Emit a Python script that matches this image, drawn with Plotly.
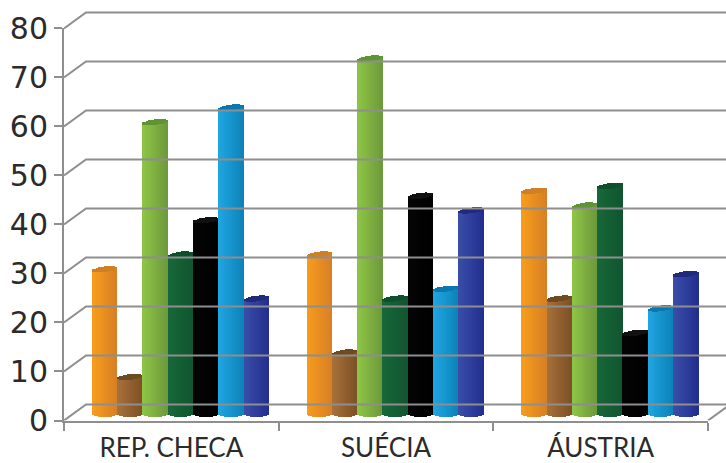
import plotly.graph_objects as go
import numpy as np

categories = ["REP. CHECA", "SUÉCIA", "ÁUSTRIA"]
series_names = ["A", "B", "C", "D", "E", "F", "G"]
orange = [29, 32, 45]
brown = [7, 12, 23]
light_green = [59, 72, 42]
dark_green = [32, 23, 46]
black = [39, 44, 16]
blue = [62, 25, 21]
navy = [23, 41, 28]
y_ticks = [0, 10, 20, 30, 40, 50, 60, 70, 80]

series = [orange, brown, light_green, dark_green, black, blue, navy]
# (left shade, right shade, cap shade)
shades = [
    ("#f99d1c", "#d67f25", "#cf7f24"),
    ("#a8713a", "#7c5026", "#6f4a20"),
    ("#8fc645", "#6c983c", "#5f9433"),
    ("#176839", "#115530", "#0f4f2b"),
    ("#050505", "#000000", "#111111"),
    ("#20a6e2", "#0c82b8", "#0a78ae"),
    ("#3a4ea8", "#222e8e", "#1f2a7c"),
]

W, H = 726, 463
PX_X = 214.67            # pixels per category
PX_Y = 4.9               # pixels per value unit
L, B, T0 = 64, 42.5, 28
DEPTH_X, DEPTH_Y = 22 / PX_X, 16 / PX_Y
BAR_DX, BAR_DY = 9.2 / PX_X, 7.0 / PX_Y
TOP_DY = 2.2 / PX_Y
BAR_W = 25.3 / PX_X
STRIPS = 13
ELL = 3.6 / PX_Y
TILT = 1.5 / PX_Y
X_MAX = (W - L) / PX_X
Y_MAX = (H - B) / PX_Y


def mix(c1, c2, t):
    a = [int(c1[i:i + 2], 16) for i in (1, 3, 5)]
    b = [int(c2[i:i + 2], 16) for i in (1, 3, 5)]
    return "rgb(%d,%d,%d)" % tuple(round(p + (q - p) * t) for p, q in zip(a, b))


fig = go.Figure()
GRID = "#8e8e8e"

# back wall grid and floor/wall diagonals
for v in y_ticks:
    fig.add_trace(go.Scatter(x=[0, DEPTH_X, X_MAX], y=[v, v + DEPTH_Y, v + DEPTH_Y],
                             mode="lines", line=dict(color=GRID, width=2), hoverinfo="skip",
                             xaxis="x", yaxis="y"))
fig.add_trace(go.Scatter(x=[len(categories), len(categories) + DEPTH_X], y=[0, DEPTH_Y],
                         mode="lines", line=dict(color=GRID, width=2), hoverinfo="skip",
                         xaxis="x", yaxis="y"))

# cylinders built from narrow strips
ts = (np.arange(STRIPS) + 0.5) / STRIPS
group_left = 0.5 + BAR_DX - BAR_W * len(series) / 2
for s, (vals, (c_l, c_r, c_cap)) in enumerate(zip(series, shades)):
    xs, bases, body, cols, cap_b, cap_h = [], [], [], [], [], []
    for g, v in enumerate(vals):
        for t in ts:
            u = 2 * t - 1
            e = ELL * np.sqrt(1 - u * u)
            xs.append(g + group_left + BAR_W * (s + t))
            bot = BAR_DY - e
            top = BAR_DY + TOP_DY + v + TILT * u
            bases.append(bot)
            body.append(top - bot)
            cols.append(mix(c_l, c_r, t))
            cap_b.append(top - e * 0.8)
            cap_h.append(2 * e * 0.8)
    strip_w = BAR_W / STRIPS * 1.12
    fig.add_trace(go.Bar(x=xs, y=body, base=bases, width=strip_w, name=series_names[s],
                         marker=dict(color=cols, line=dict(width=0)), xaxis="x", yaxis="y"))
    fig.add_trace(go.Bar(x=xs, y=cap_h, base=cap_b, width=strip_w, name=series_names[s],
                         marker=dict(color=c_cap, line=dict(width=0)), xaxis="x", yaxis="y"))

# empty trace so that the front axes get drawn
fig.add_trace(go.Scatter(x=[0], y=[0], mode="markers", marker=dict(opacity=0),
                         hoverinfo="skip", xaxis="x2", yaxis="y2"))

TXT = "#2b2b2b"
fig.update_layout(
    template="none",
    width=W, height=H, autosize=False, showlegend=False, barmode="overlay", bargap=0,
    margin=dict(l=0, r=0, t=0, b=0), paper_bgcolor="white", plot_bgcolor="rgba(0,0,0,0)",
    xaxis=dict(domain=[L / W, 1], range=[0, X_MAX], visible=False, fixedrange=True),
    yaxis=dict(domain=[B / H, 1], range=[0, Y_MAX], visible=False, fixedrange=True),
    xaxis2=dict(domain=[L / W, (L + PX_X * 3) / W], range=[0, 3], anchor="y2", showgrid=False,
                zeroline=False, showline=True, linecolor=GRID, linewidth=2, automargin=False,
                tickmode="array", tickvals=[0.5, 1.5, 2.5], ticktext=categories, ticks="",
                tickfont=dict(family="Lato", size=26, color=TXT),
                minor=dict(tickmode="array", tickvals=[0, 1, 2, 3], ticks="outside",
                           ticklen=8, tickwidth=2, tickcolor=GRID),
                ticklabelstandoff=3),
    yaxis2=dict(domain=[B / H, (H - T0) / H], range=[0, 80], anchor="x2", showgrid=False,
                zeroline=False, showline=True, linecolor=GRID, linewidth=2, automargin=False,
                tickmode="array", tickvals=y_ticks, ticks="outside", ticklen=8, tickwidth=2,
                tickcolor=GRID, tickfont=dict(family="DejaVu Sans", size=30, color=TXT)),
)
fig.write_html("out.html", config=dict(displayModeBar=False),
               post_script="document.body.style.margin='0';")
